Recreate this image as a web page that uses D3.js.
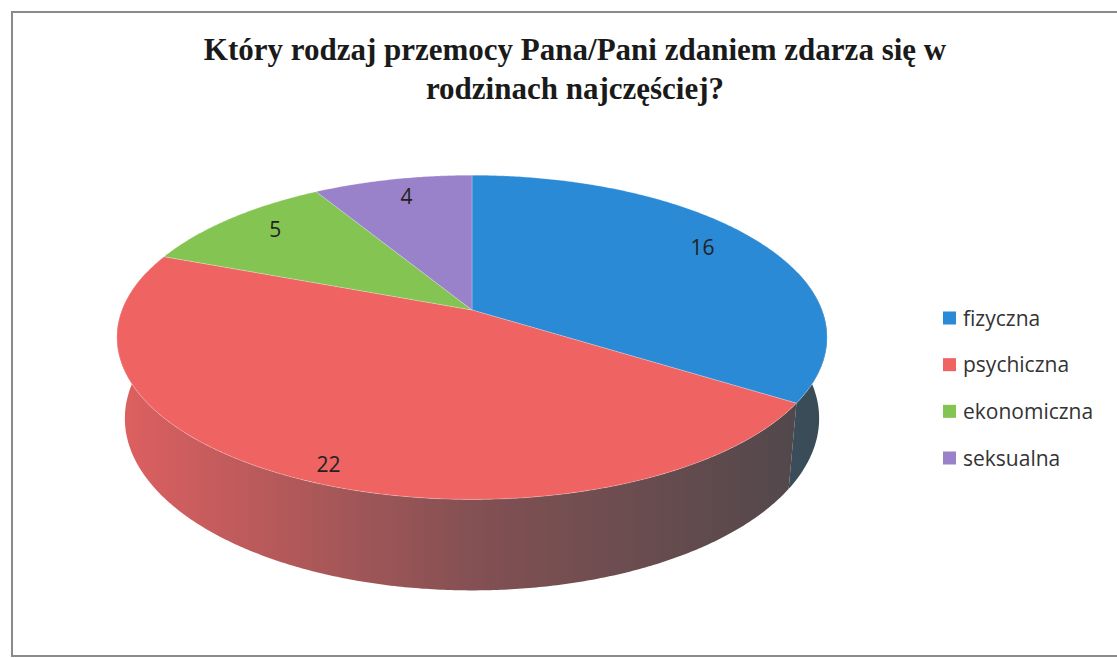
<!DOCTYPE html>
<html>
<head>
<meta charset="utf-8">
<script src="https://cdn.jsdelivr.net/npm/d3@7"></script>
<style>
  html, body { margin: 0; padding: 0; background: #fff; }
  svg { display: block; }
</style>
</head>
<body>
<div id="chart"></div>
<script>
// Wykres kołowy 3D - rodzaje przemocy

const titleLines = ["Który rodzaj przemocy Pana/Pani zdaniem zdarza się w", "rodzinach najczęściej?"];
const categories = ["fizyczna", "psychiczna", "ekonomiczna", "seksualna"];
const values = [16, 22, 5, 4];
const colors = ["#2b8ad6", "#ef6363", "#84c453", "#9a82cb"];

const width = 1117;
const height = 658;

const svg = d3.select("#chart").append("svg")
  .attr("width", width)
  .attr("height", height);
const defs = svg.append("defs");

// ramka
svg.append("path")
  .attr("d", `M1120,12 L12,12 L12,656 L1120,656`)
  .attr("fill", "none")
  .attr("stroke", "#8a8a8a")
  .attr("stroke-width", 2);

// tytuł
svg.append("g").selectAll("text")
  .data(titleLines)
  .join("text")
  .attr("x", 575)
  .attr("y", (d, i) => 60 + i * 39)
  .attr("text-anchor", "middle")
  .attr("font-family", "'Liberation Serif', 'Times New Roman', serif")
  .attr("font-weight", "bold")
  .attr("font-size", 31)
  .attr("fill", "#1a1a1a")
  .text(d => d);

// rzut perspektywiczny
const cx = 472, cy = 310;
const sinA = 0.45, cosA = 0.893;
const D = 5.30, F = 1855, T = 0.262;

function proj(theta, r, yy) {
  const X = r * Math.sin(theta);
  const Z = -r * Math.cos(theta);
  const depth = D - yy * sinA - Z * cosA;
  const up = yy * cosA - Z * sinA;
  return [cx + F * X / depth, cy - F * up / depth];
}

const color = d3.scaleOrdinal().domain(categories).range(colors);
const pie = d3.pie().sort(null).value(d => d.value);
const arcs = pie(categories.map((c, i) => ({ name: c, value: values[i] })));

const shade = d3.scaleLinear().domain([-1, 0, 1]).range([0.1, 0.6, 0.9]).clamp(true);
const dark = "#3c4448";
const step = Math.PI / 360;

// ściany boczne (gradient poziomy)
const sideG = svg.append("g");
const xl = proj(-Math.PI / 2, 1, 0)[0], xr = proj(Math.PI / 2, 1, 0)[0];
arcs.forEach((a, i) => {
  const base = color(a.data.name);
  const grad = defs.append("linearGradient")
    .attr("id", "side" + i)
    .attr("gradientUnits", "userSpaceOnUse")
    .attr("x1", xl).attr("x2", xr).attr("y1", 0).attr("y2", 0);
  d3.range(0, 1.0001, 0.05).forEach(f => {
    const s = f * 2 - 1;
    grad.append("stop")
      .attr("offset", f)
      .attr("stop-color", d3.interpolateRgb(base, dark)(shade(s)));
  });
  // tylko przednia część ściany
  const a0 = Math.max(a.startAngle, Math.PI / 2 - 0.25);
  const a1 = Math.min(a.endAngle, 3 * Math.PI / 2 + 0.25);
  if (a1 <= a0) return;
  const n = Math.ceil((a1 - a0) / step);
  const topPts = d3.range(n + 1).map(k => proj(a0 + (a1 - a0) * k / n, 1, 0));
  const botPts = d3.range(n + 1).map(k => proj(a0 + (a1 - a0) * k / n, 1, -T)).reverse();
  sideG.append("path")
    .attr("d", d3.line()(topPts.concat(botPts)) + "Z")
    .attr("fill", `url(#side${i})`);
});

// powierzchnia górna
const topG = svg.append("g");
arcs.forEach(a => {
  const pts = [proj(0, 0, 0)];
  const n = Math.ceil((a.endAngle - a.startAngle) / step);
  for (let k = 0; k <= n; k++) {
    pts.push(proj(a.startAngle + (a.endAngle - a.startAngle) * k / n, 1, 0));
  }
  topG.append("path")
    .attr("d", d3.line()(pts) + "Z")
    .attr("fill", color(a.data.name))
    .attr("stroke", "rgba(255,255,255,0.3)")
    .attr("stroke-width", 0.8);
});

// etykiety danych
svg.append("g").selectAll("text")
  .data(arcs)
  .join("text")
  .each(function(a) {
    const mid = (a.startAngle + a.endAngle) / 2;
    const p = proj(mid, 0.8, 0);
    const front = Math.max(0, -Math.cos(mid));
    d3.select(this)
      .attr("x", p[0])
      .attr("y", p[1] + front * 36 + 2);
  })
  .attr("text-anchor", "middle")
  .attr("font-family", "'Open Sans', 'Noto Sans', sans-serif")
  .attr("font-size", 21)
  .attr("fill", "#222")
  .text(a => a.data.value);

// legenda
const legend = svg.append("g").attr("transform", "translate(943,0)");
const rowY = d3.scalePoint().domain(categories).range([318, 458]);
const item = legend.selectAll("g")
  .data(categories)
  .join("g")
  .attr("transform", d => `translate(0,${rowY(d)})`);
item.append("rect")
  .attr("x", 0).attr("y", -6.5)
  .attr("width", 13).attr("height", 13)
  .attr("fill", d => color(d));
item.append("text")
  .attr("x", 20).attr("y", 7.5)
  .attr("font-family", "'Open Sans', 'Noto Sans', sans-serif")
  .attr("font-size", 21)
  .attr("fill", "#333")
  .text(d => d);
</script>
</body>
</html>
